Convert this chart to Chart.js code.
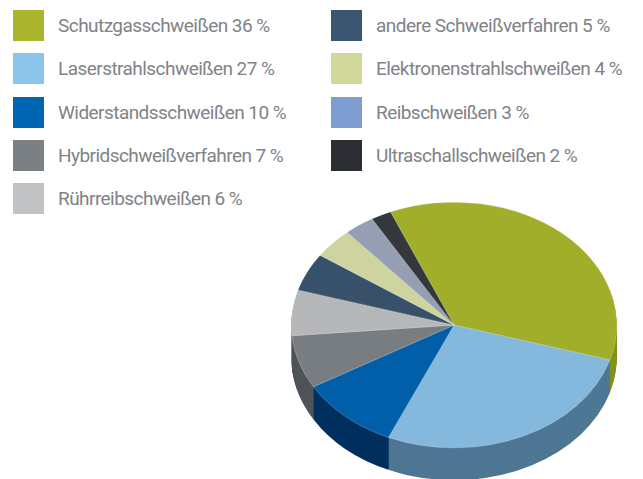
<!DOCTYPE html>
<html>
<head>
<meta charset="utf-8">
<script src="https://cdn.jsdelivr.net/npm/chart.js@4.4.0/dist/chart.umd.min.js"></script>
<style>
  html, body { margin: 0; padding: 0; background: #fff; }
  body { width: 643px; height: 479px; position: relative; overflow: hidden; }
  .legend { position: absolute; top: 10px; font-family: "Liberation Sans Narrow", "Roboto", sans-serif; font-size: 19px; letter-spacing: -0.55px; color: #808387; }
  .legend div { position: relative; height: 31px; margin-bottom: 12.3px; line-height: 31px; padding-left: 45px; white-space: nowrap; }
  .legend span.box { position: absolute; left: 0; top: 0; width: 31px; height: 31px; }
  #pieBox { position: absolute; left: 291px; top: 162px; width: 326px; height: 326px; }
</style>
</head>
<body>
<div class="legend" id="leg1" style="left:13px"></div>
<div class="legend" id="leg2" style="left:331px"></div>
<div id="pieBox"><canvas id="graph_schweissen"></canvas></div>
<script>
// ---------------- Daten ----------------
const verfahren = ['Schutzgasschweißen', 'Laserstrahlschweißen', 'Widerstandsschweißen', 'Hybridschweißverfahren',
                   'Rührreibschweißen', 'andere Schweißverfahren', 'Elektronenstrahlschweißen', 'Reibschweißen', 'Ultraschallschweißen'];
const anteile = [36, 27, 10, 7, 6, 5, 4, 3, 2];
const farbenLegende = ['#A9B52C', '#8DC4EA', '#0066B3', '#7B8085', '#C1C2C4', '#3A5671', '#D1D899', '#7E9ED2', '#2A2E33'];
const farbenTorte = ['#A0AE2A', '#84B8DD', '#005FA8', '#787D82', '#B6B7B9', '#37516B', '#CDD4A0', '#959EB2', '#34373B'];
const farbenSeite = ['#84941E', '#4E7794', '#00305F', '#4F5458', '#8C8D8F', '#243648', '#A3A97A', '#6E7687', '#1E2023'];

// ---------------- Legende (2 Spalten) ----------------
verfahren.forEach(function(name, i) {
    const row = document.createElement('div');
    row.innerHTML = '<span class="box" style="background:' + farbenLegende[i] + '"></span>' + name + ' ' + anteile[i] + ' %';
    document.getElementById(i < 5 ? 'leg1' : 'leg2').appendChild(row);
});

// ---------------- 3D-Effekt ----------------
const stauchung = 0.755;
const tiefe = 43;

const pie3d = {
    id: 'pie3d',
    beforeDatasetsDraw(chart) {
        const ctx = chart.ctx;
        const arcs = chart.getDatasetMeta(0).data;
        const cx = arcs[0].x, cy = arcs[0].y;
        ctx.save();
        ctx.translate(cx, cy);
        ctx.scale(1, stauchung);
        ctx.translate(-cx, -cy);
        for (let d = tiefe; d >= 1; d--) {
            arcs.forEach(function(a, i) {
                ctx.beginPath();
                ctx.moveTo(a.x, a.y + d);
                ctx.arc(a.x, a.y + d, a.outerRadius, a.startAngle, a.endAngle);
                ctx.closePath();
                ctx.fillStyle = farbenSeite[i];
                ctx.fill();
            });
        }
    },
    afterDatasetsDraw(chart) {
        chart.ctx.restore();
    }
};

const config = {
    type: 'pie',
    data: {
        labels: verfahren,
        datasets: [{
            data: anteile,
            backgroundColor: farbenTorte,
            borderColor: 'rgba(255, 255, 255, 0.45)',
            borderWidth: 0.6,
            clip: false
        }]
    },
    options: {
        responsive: false,
        animation: false,
        rotation: -23,
        layout: { padding: 0 },
        plugins: {
            legend: { display: false },
            tooltip: { enabled: false }
        }
    },
    plugins: [pie3d]
};

const canvas = document.getElementById('graph_schweissen');
canvas.width = 326;
canvas.height = 326;
const pie_chart = new Chart(canvas, config);
</script>
</body>
</html>
